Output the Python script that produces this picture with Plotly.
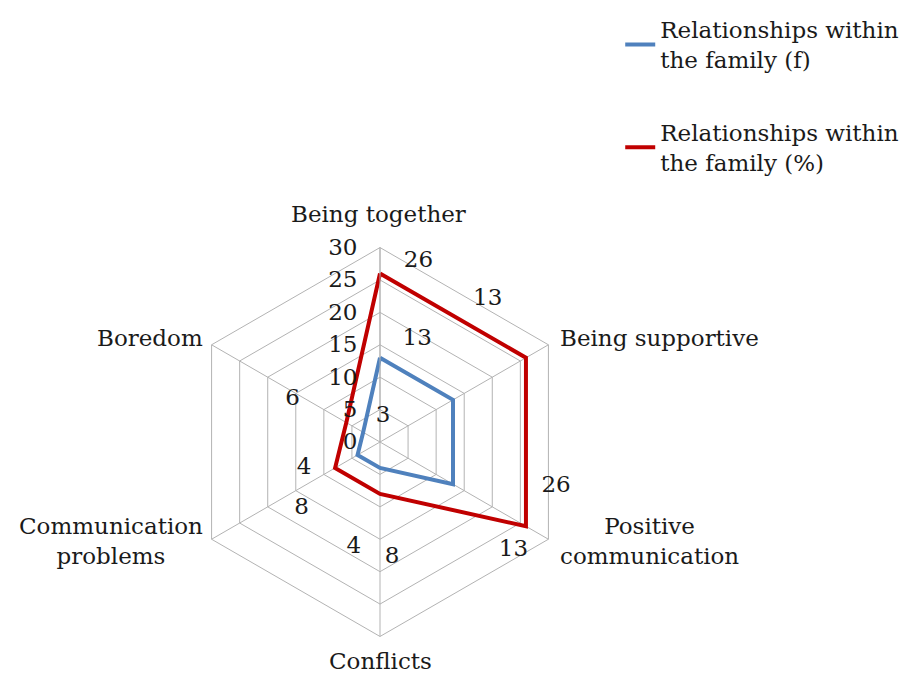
import math
import plotly.graph_objects as go

categorias = ['Being together', 'Being supportive', 'Positive communication',
              'Conflicts', 'Communication problems', 'Boredom']
etiquetas = ['Being together', 'Being supportive', 'Positive<br>communication',
             'Conflicts', 'Communication<br>problems', 'Boredom']
valores_f = [13, 13, 13, 4, 4, 3]
valores_pct = [26, 26, 26, 8, 8, 6]
ticks_radial = [0, 5, 10, 15, 20, 25, 30]

# donde van las etiquetas de datos (radio, angulo en grados desde arriba, horario)
pos_f = [(16.8, 20), (27.6, 37), (26.5, 129), (16.7, 194), (12.4, 251), (4.0, 7)]
pos_pct = [(28.5, 12), (36.8, 54), (28.0, 104), (17.8, 174), (15.8, 230), (15.0, 296)]

fuente = 'DejaVu Serif'
tam = 23
W, H = 907, 674
# la pagina tiene 8px de margen en el body, por eso se resta 8
cx, cy, rad = 380 - 8, 439.5 - 8, 196.5

fig = go.Figure()

def cerrar(lista):
    return lista + lista[:1]

fig.add_trace(go.Scatterpolar(
    r=cerrar(valores_f), theta=cerrar(categorias), mode='lines',
    name='Relationships within<br>the family (f)', legendgroup='f',
    line=dict(color='#4F81BD', width=4)))
fig.add_trace(go.Scatterpolar(
    r=cerrar(valores_pct), theta=cerrar(categorias), mode='lines',
    name='Relationships within<br>the family (%)', legendgroup='p',
    line=dict(color='#C00000', width=4)))

# etiquetas de datos en un polar aparte con angulo numerico
for vals, pos in ((valores_f, pos_f), (valores_pct, pos_pct)):
    fig.add_trace(go.Scatterpolar(
        r=[p[0] for p in pos], theta=[p[1] for p in pos],
        mode='text', text=[str(v) for v in vals],
        textfont=dict(family=fuente, size=tam, color='#1a1a1a'),
        subplot='polar2', showlegend=False, hoverinfo='skip'))

# nombres de las categorias como anotaciones junto a cada vertice
anclas = [('center', -2, -34), ('left', 8, -7), ('left', 8, 2),
          ('center', 0, 25), ('right', -5, 2), ('right', -5, -7)]
for i, (txt, (xa, dx, dy)) in enumerate(zip(etiquetas, anclas)):
    ang = math.radians(60 * i)
    px = cx + rad * math.sin(ang) + dx
    py = cy - rad * math.cos(ang) + dy
    fig.add_annotation(x=px / W, y=1 - py / H, xref='paper', yref='paper',
                       text=txt, showarrow=False, xanchor=xa, yanchor='middle',
                       align='center', font=dict(family=fuente, size=tam, color='#1a1a1a'))

dom_x = [(cx - rad) / W, (cx + rad) / W]
dom_y = [(H - cy - rad) / H, (H - cy + rad) / H]

fig.update_layout(
    width=W, height=H,
    margin=dict(l=0, r=0, t=0, b=0),
    paper_bgcolor='white',
    font=dict(family=fuente, size=tam, color='#1a1a1a'),
    polar=dict(
        domain=dict(x=dom_x, y=dom_y),
        gridshape='linear',
        bgcolor='rgba(0,0,0,0)',
        radialaxis=dict(range=[0, 30], tickvals=ticks_radial, angle=90,
                        tickangle=90, side='counterclockwise', showline=True,
                        linecolor='#b3b3b3', linewidth=1,
                        gridcolor='#b3b3b3', gridwidth=1,
                        ticks='outside', ticklen=14, tickcolor='rgba(0,0,0,0)',
                        tickfont=dict(size=tam)),
        angularaxis=dict(rotation=90, direction='clockwise',
                         linecolor='#b3b3b3', linewidth=1,
                         gridcolor='#b3b3b3', gridwidth=1, ticks='',
                         showticklabels=False)),
    polar2=dict(
        domain=dict(x=dom_x, y=dom_y),
        bgcolor='rgba(0,0,0,0)',
        radialaxis=dict(range=[0, 30], visible=False),
        angularaxis=dict(rotation=90, direction='clockwise', visible=False)),
    legend=dict(x=0.675, y=1.011, xanchor='left', yanchor='top',
                font=dict(size=tam), tracegroupgap=40, itemwidth=30),
)

fig.write_html('out.html')
